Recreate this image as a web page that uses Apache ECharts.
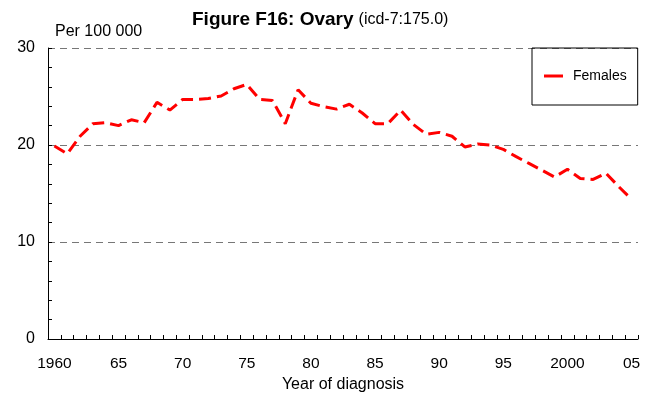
<!DOCTYPE html>
<html>
<head>
<meta charset="utf-8">
<script src="https://cdn.jsdelivr.net/npm/echarts@6/dist/echarts.min.js"></script>
<style>
html,body{margin:0;padding:0;background:#fff;}
#chart{width:659px;height:400px;}
</style>
</head>
<body>
<div id="chart"></div>
<script>
var years = ['1960','1961','1962','1963','1964','1965','1966','1967','1968','1969',
             '1970','1971','1972','1973','1974','1975','1976','1977','1978','1979',
             '1980','1981','1982','1983','1984','1985','1986','1987','1988','1989',
             '1990','1991','1992','1993','1994','1995','1996','1997','1998','1999',
             '2000','2001','2002','2003','2004','2005'];
var females = [19.9, 19.1, 20.9, 22.2, 22.3, 22.0, 22.6, 22.3, 24.4, 23.6,
               24.7, 24.7, 24.8, 25.05, 25.8, 26.25, 24.7, 24.6, 22.2, 25.7,
               24.3, 23.95, 23.7, 24.2, 23.3, 22.2, 22.2, 23.6, 22.1, 21.1,
               21.3, 20.9, 19.8, 20.1, 20.0, 19.55, 18.8, 18.1, 17.4, 16.7,
               17.5, 16.55, 16.45, 17.1, 15.7, 14.4];
var xTickLabels = ['1960','65','70','75','80','85','90','95','2000','05'];
var yTicks = [0, 10, 20, 30];

var FONT = '"Liberation Sans", Arial, sans-serif';
var chart = echarts.init(document.getElementById('chart'));
chart.setOption({
  animation: false,
  backgroundColor: '#fff',
  textStyle: { fontFamily: FONT },
  title: {
    left: 187, top: 5,
    text: '{a|Figure F16: Ovary} {b|(icd-7:175.0)}',
    textStyle: {
      fontWeight: 'normal',
      rich: {
        a: { fontFamily: FONT, fontSize: 19, fontWeight: 'bold', color: '#000' },
        b: { fontFamily: FONT, fontSize: 16, fontWeight: 'normal', color: '#000' }
      }
    }
  },
  graphic: [{
    type: 'text', left: 55, top: 24,
    style: { text: 'Per 100 000', font: '16px ' + FONT, fill: '#000' }
  }],
  legend: {
    left: 532, top: 48,
    padding: [21, 11, 22, 12],
    borderColor: '#000', borderWidth: 1, borderRadius: 0,
    icon: 'rect', itemWidth: 19, itemHeight: 3,
    textStyle: { fontFamily: FONT, fontSize: 14, color: '#000', padding: [0, 0, 0, 5] },
    data: ['Females']
  },
  grid: { left: 48, right: 21, top: 48, bottom: 61, containLabel: false },
  xAxis: {
    type: 'category', data: years, boundaryGap: true,
    name: 'Year of diagnosis', nameLocation: 'middle', nameGap: 36,
    nameTextStyle: { fontFamily: FONT, fontSize: 16, color: '#000' },
    axisLine: { show: true, lineStyle: { color: '#000', width: 1 } },
    axisTick: { show: true, inside: true, interval: 0, length: 4, lineStyle: { color: '#000' } },
    axisLabel: {
      interval: 4, margin: 17, fontSize: 15.5, color: '#000', fontFamily: FONT,
      formatter: function (v, i) { return xTickLabels[i / 5]; }
    },
    splitLine: { show: false }
  },
  yAxis: {
    type: 'value', min: yTicks[0], max: yTicks[yTicks.length - 1], interval: 10,
    axisLine: { show: true, lineStyle: { color: '#000', width: 1 } },
    axisTick: { show: true, inside: true, length: 4, lineStyle: { color: '#000' } },
    minorTick: { show: true, splitNumber: 5, length: 4, lineStyle: { color: '#000' } },
    axisLabel: { margin: 13, fontSize: 16, color: '#000', fontFamily: FONT },
    splitLine: { show: true, lineStyle: { color: '#777', width: 1, type: [7, 5] } }
  },
  series: [{
    name: 'Females', type: 'line', data: females,
    symbol: 'none',
    itemStyle: { color: '#ff0000' },
    lineStyle: { color: '#ff0000', width: 3, type: [12, 6] }
  }]
});
</script>
</body>
</html>
